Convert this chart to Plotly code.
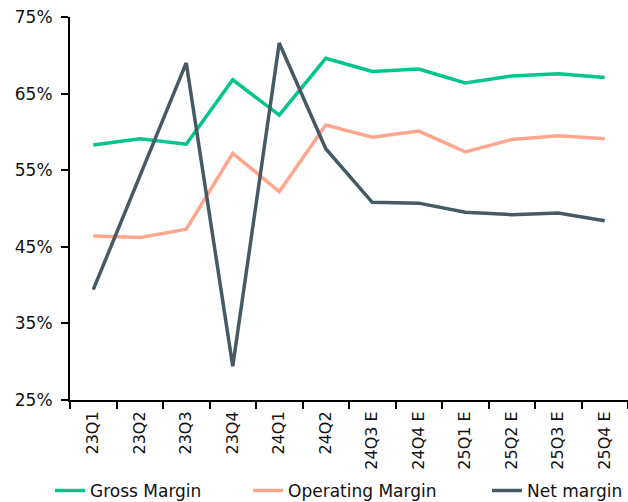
import plotly.graph_objects as go

quarters = ["23Q1", "23Q2", "23Q3", "23Q4", "24Q1", "24Q2", "24Q3 E", "24Q4 E",
            "25Q1 E", "25Q2 E", "25Q3 E", "25Q4 E"]
gross_margin = [58.3, 59.1, 58.4, 66.8, 62.2, 69.6, 67.9, 68.2, 66.4, 67.3, 67.6, 67.1]
operating_margin = [46.4, 46.2, 47.3, 57.2, 52.2, 60.9, 59.3, 60.1, 57.4, 59.0, 59.5, 59.1]
net_margin = [39.4, 54.3, 69.0, 29.4, 71.6, 57.8, 50.8, 50.7, 49.5, 49.2, 49.4, 48.4]

y_ticks = [25, 35, 45, 55, 65, 75]
y_tick_labels = ["25%", "35%", "45%", "55%", "65%", "75%"]

series = [
    ("Gross Margin", gross_margin, "#00C58D", "legend", 0.0796),
    ("Operating Margin", operating_margin, "#FFA68D", "legend2", 0.395),
    ("Net margin", net_margin, "#455A64", "legend3", 0.7755),
]

fig = go.Figure()
for name, vals, color, leg, _ in series:
    fig.add_trace(go.Scatter(x=quarters, y=vals, name=name, mode="lines",
                             line=dict(color=color, width=3.5), legend=leg))

font_family = "DejaVu Sans, Noto Sans, sans-serif"
legend_style = dict(orientation="h", xanchor="left", y=0.022, yanchor="middle",
                    yref="container", xref="container", font=dict(size=17),
                    bgcolor="rgba(0,0,0,0)")
legends = {}
for name, vals, color, leg, xpos in series:
    legends[leg] = dict(legend_style, x=xpos)

fig.update_layout(
    width=628, height=502,
    margin=dict(l=70, r=0, t=17, b=102, autoexpand=False),
    plot_bgcolor="white", paper_bgcolor="white",
    font=dict(family=font_family, color="#111111", size=16),
    showlegend=True,
    xaxis=dict(showline=True, linecolor="black", linewidth=2, ticks="outside",
               tickson="boundaries", ticklen=7, tickwidth=2, tickcolor="black",
               tickangle=-90, tickfont=dict(size=16), showgrid=False,
               range=[-0.5, 11.5], automargin=False, ticklabelstandoff=3),
    yaxis=dict(range=[25, 75], tickvals=y_ticks, ticktext=y_tick_labels,
               showline=True, linecolor="black", linewidth=2, ticks="outside",
               ticklen=7, tickwidth=2, tickcolor="black", showgrid=False,
               tickfont=dict(size=17), zeroline=False, automargin=False,
               ticklabelstandoff=5),
    **legends,
)

fig.write_html("out.html", config={"displayModeBar": False},
               post_script="document.body.style.margin='0';document.body.style.padding='0';")
